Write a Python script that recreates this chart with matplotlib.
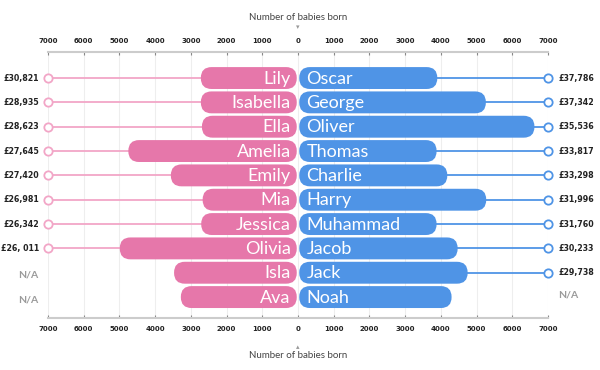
import matplotlib
matplotlib.use("Agg")
from matplotlib import pyplot as plt
from matplotlib import font_manager
from matplotlib.patches import FancyBboxPatch

girls = ["Lily", "Isabella", "Ella", "Amelia", "Emily", "Mia", "Jessica", "Olivia", "Isla", "Ava"]
girls_born = [2720, 2720, 2690, 4750, 3560, 2670, 2710, 4990, 3470, 3280]
girls_salary = ["£30,821", "£28,935", "£28,623", "£27,645", "£27,420", "£26,981",
                "£26,342", "£26, 011", None, None]

boys = ["Oscar", "George", "Oliver", "Thomas", "Charlie", "Harry", "Muhammad", "Jacob", "Jack", "Noah"]
boys_born = [3900, 5260, 6620, 3880, 4180, 5270, 3880, 4470, 4750, 4300]
boys_salary = ["£37,786", "£37,342", "£35,536", "£33,817", "£33,298", "£31,996",
               "£31,760", "£30,233", "£29,738", None]

ticks = [-7000, -6000, -5000, -4000, -3000, -2000, -1000, 0, 1000, 2000, 3000, 4000, 5000, 6000, 7000]

ROSA = "#e677aa"
ROSA_CLARO = "#f2a6c7"
AZUL = "#4f94e6"
GRIS = "#9a9a9a"

# busca la letra mas estrecha en negrita que haya instalada
orden = {"extra-condensed": 0, "condensed": 1, "semi-condensed": 2}
candidatas = []
for f in font_manager.fontManager.ttflist:
    if f.stretch in orden and f.weight in (600, 700, "bold", "semibold"):
        candidatas.append((orden[f.stretch], f.fname))
candidatas.sort()
if candidatas:
    rango = candidatas[0][0]
    tam = {0: 7.2, 1: 6.3, 2: 5.8}[rango]
    ESTRECHA = dict(fontproperties=font_manager.FontProperties(fname=candidatas[0][1], size=tam),
                    color="#222222")
else:
    ESTRECHA = dict(family="Roboto", fontweight="bold", fontsize=5.8, color="#222222")

fig = plt.figure(figsize=(6, 3.7), dpi=100)
ax = fig.add_axes([48 / 600, 1 - 318 / 370, 500 / 600, 266 / 370])
ax.set_xlim(-7000, 7000)
ax.set_ylim(9.86, -1.07)

# 1 unidad en y -> unidades en x (para que las esquinas salgan redondas)
px_x = 500 / 14000
px_y = 266 / 10.93
aspecto = (1 / px_y) / (1 / px_x)

alto = 0.9
hueco = 35
for i in range(len(girls)):
    v = girls_born[i]
    barra = FancyBboxPatch((-v, i - alto / 2), v - hueco, alto,
                           boxstyle="round,pad=0,rounding_size=300",
                           mutation_aspect=aspecto, fc=ROSA, ec="none", zorder=3)
    ax.add_patch(barra)
    ax.text(-hueco - 170, i + 0.03, girls[i], ha="right", va="center", color="white",
            fontsize=13, family="Lato", zorder=4)
    if girls_salary[i] is not None:
        ax.plot([-7000, -v + 200], [i, i], color=ROSA_CLARO, lw=1.3, zorder=2)
        ax.plot([-7000], [i], marker="o", ms=6, mfc="white", mec=ROSA_CLARO, mew=1.3, zorder=5,
                clip_on=False)
        ax.text(-7250, i, girls_salary[i], ha="right", va="center", **ESTRECHA)
    else:
        ax.text(-7270, i + 0.1, "N/A", ha="right", va="center", fontsize=7.5,
                family="Lato", fontweight="bold", color=GRIS)

for i in range(len(boys)):
    v = boys_born[i]
    barra = FancyBboxPatch((hueco, i - alto / 2), v - hueco, alto,
                           boxstyle="round,pad=0,rounding_size=300",
                           mutation_aspect=aspecto, fc=AZUL, ec="none", zorder=3)
    ax.add_patch(barra)
    ax.text(hueco + 200, i + 0.03, boys[i], ha="left", va="center", color="white",
            fontsize=13, family="Lato", zorder=4)
    if boys_salary[i] is not None:
        ax.plot([v - 200, 7000], [i, i], color=AZUL, lw=1.3, zorder=2)
        ax.plot([7000], [i], marker="o", ms=6, mfc="white", mec=AZUL, mew=1.3, zorder=5,
                clip_on=False)
        ax.text(7300, i, boys_salary[i], ha="left", va="center", **ESTRECHA)
    else:
        ax.text(7280, i - 0.1, "N/A", ha="left", va="center", fontsize=7.5,
                family="Lato", fontweight="bold", color=GRIS)

for t in ticks:
    ax.axvline(t, color="#eeeeee", lw=0.8, zorder=0)

ax.set_xticks(ticks)
ax.set_xticklabels([str(abs(t)) for t in ticks], fontsize=5, fontweight="bold", color="#222222")
ax.tick_params(axis="x", top=True, labeltop=True, bottom=True, labelbottom=True,
               direction="in", length=2, width=0.8, color="#888888", pad=6)
ax.set_yticks([])
for lado in ["left", "right"]:
    ax.spines[lado].set_visible(False)
for lado in ["top", "bottom"]:
    ax.spines[lado].set_color("#cccccc")
    ax.spines[lado].set_linewidth(1.5)

fig.text(298 / 600, 1 - 18 / 370, "Number of babies born", ha="center", va="center",
         fontsize=7, color="#444444", family="Lato")
fig.text(298 / 600, 1 - 27 / 370, "▾", ha="center", va="center", fontsize=5, color="#999999")
fig.text(298 / 600, 1 - 356 / 370, "Number of babies born", ha="center", va="center",
         fontsize=7, color="#444444", family="Lato")
fig.text(298 / 600, 1 - 347 / 370, "▴", ha="center", va="center", fontsize=5, color="#999999")

fig.savefig("out.png", dpi=100)
